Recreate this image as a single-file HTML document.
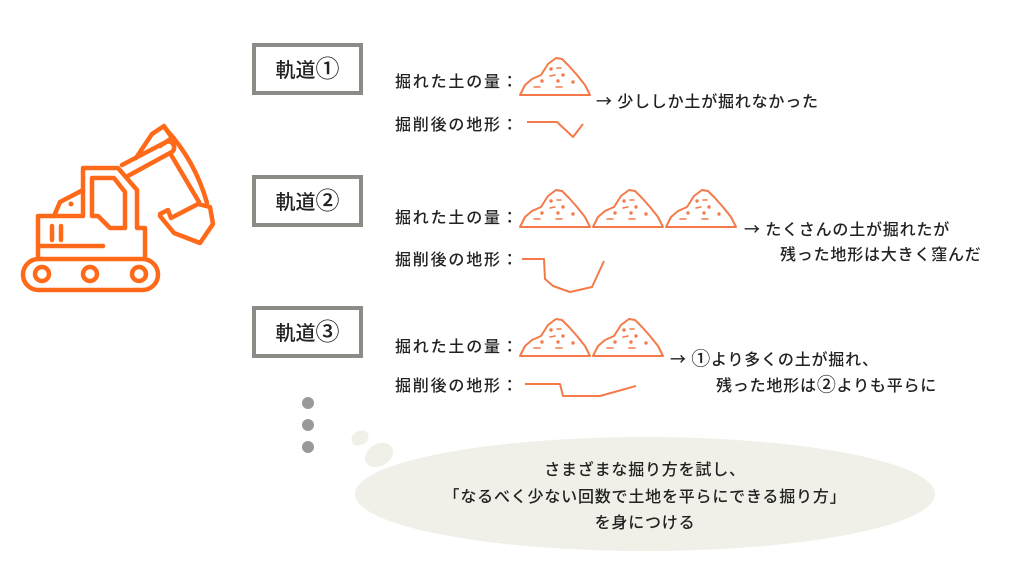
<!DOCTYPE html>
<html><head><meta charset="utf-8"><style>
body{margin:0;width:1024px;height:576px;background:#fff;overflow:hidden;position:relative;font-family:"Liberation Sans","Noto Sans CJK JP",sans-serif;color:#222}
.box{position:absolute;left:252px;width:103px;height:44px;border:4px solid #8c8c86;background:#fff;text-align:center;line-height:44px;font-size:20px;color:#222;font-family:"Noto Sans CJK JP",sans-serif;font-weight:500}
.t{position:absolute;font-size:16px;white-space:nowrap;letter-spacing:0.8px;line-height:20px;font-family:"Noto Sans CJK JP",sans-serif;font-weight:500}
.l{letter-spacing:1.8px}
.c{font-size:19px;line-height:16px}
svg{position:absolute;left:0;top:0}
</style></head><body>
<svg width="1024" height="576" viewBox="0 0 1024 576">
<defs>
<g id="m">
<path d="M0,38 L70,38 L65,28 L57,18 L49,9 L42,2 L36,1 L28,7 L21,18 L12,22 L5,28 Z" fill="none" stroke="#f47a4a" stroke-width="2" stroke-linejoin="round"/>
<g stroke="#f47a4a" stroke-width="1.6" stroke-linecap="round" fill="#f47a4a">
<path d="M37,11 l4,0 M30,19 l5,-1 M14,30 l6,0 M36,30 l6,0" fill="none"/>
<circle cx="31" cy="12" r="0.9"/><circle cx="43" cy="18" r="0.9"/><circle cx="22" cy="24" r="0.9"/><circle cx="53" cy="25" r="0.9"/><circle cx="38" cy="24" r="0.9"/>
</g>
</g>
</defs>
<g fill="none" stroke="#ff6a1a" stroke-width="4.5" stroke-linejoin="round" stroke-linecap="round">
<rect x="23" y="259" width="135" height="31" rx="15.5"/>
<circle cx="42" cy="274" r="7"/><circle cx="90" cy="274" r="7"/><circle cx="139" cy="274" r="7"/>
<path d="M38,259 L38,216 L83,216 L83,168 L118,168 L137,190 L137,228 L145,228 L145,259"/>
<path d="M40,246 L103,246"/>
<path d="M52,226 L52,240 M61,226 L61,240"/>
<path d="M92,216 L92,178 L114,178 L125,192 L125,228 L110,228 L98,216 Z"/>
<path d="M54,216 L60,202 L83,190"/>
<circle cx="71" cy="204" r="2.5" fill="#ff6a1a" stroke="none"/>
<path d="M122,165 L166,142 Q172,140 174,146 Q175,151 170,153 L126,177"/>
<path d="M136,158 L152,134 L164,126 L172,138 L160,146"/>
<path d="M164,127 Q195,160 207,203 M170,153 L199,202"/>
<path d="M160,214 L168,210 L171,218 L198,204 L210,207 L213,224 L200,243 L174,233 L160,216"/>
</g>
<use href="#m" x="520" y="57"/>
<use href="#m" x="520" y="189"/><use href="#m" x="593" y="189"/><use href="#m" x="666" y="189"/>
<use href="#m" x="520" y="318"/><use href="#m" x="593" y="318"/>
<g fill="none" stroke="#f47a4a" stroke-width="2" stroke-linejoin="round">
<path d="M527,122 L557,122 L573,137 L583,124"/>
<path d="M522,259 L544,259 L545,279 L553,286 L570,292 L592,287 L604,261"/>
<path d="M525,384 L560,384 L563,396 L600,396 L636,386"/>
</g>
<circle cx="308" cy="403" r="6" fill="#999"/><circle cx="308" cy="425" r="6" fill="#999"/><circle cx="308" cy="447" r="6" fill="#999"/>
<ellipse cx="360" cy="438" rx="9" ry="7" fill="#f0efe8" transform="rotate(-30 360 438)"/>
<ellipse cx="379" cy="455" rx="15" ry="11" fill="#f0efe8" transform="rotate(-30 379 455)"/>
<ellipse cx="645" cy="494" rx="290" ry="57" fill="#f0efe8"/>
</svg>
<div class="box" style="top:43px">軌道<span class="c" style="font-size:24px">①</span></div>
<div class="box" style="top:175px">軌道<span class="c" style="font-size:24px">②</span></div>
<div class="box" style="top:306px">軌道<span class="c" style="font-size:24px">③</span></div>
<div class="t l" style="left:395px;top:70px">掘れた土の量：</div>
<div class="t l" style="left:395px;top:113px">掘削後の地形：</div>
<div class="t" style="left:596px;top:90px">→ 少ししか土が掘れなかった</div>
<div class="t l" style="left:395px;top:206px">掘れた土の量：</div>
<div class="t l" style="left:395px;top:248px">掘削後の地形：</div>
<div class="t" style="left:744px;top:218px">→ たくさんの土が掘れたが</div>
<div class="t" style="left:780px;top:243px">残った地形は大きく窪んだ</div>
<div class="t l" style="left:395px;top:335px">掘れた土の量：</div>
<div class="t l" style="left:395px;top:374px">掘削後の地形：</div>
<div class="t" style="left:670px;top:348px">→ <span class="c">①</span>より多くの土が掘れ、</div>
<div class="t" style="left:716px;top:374px">残った地形は<span class="c">②</span>よりも平らに</div>
<div class="t" style="left:345px;width:600px;text-align:center;top:458px;font-size:16px">さまざまな掘り方を試し、</div>
<div class="t" style="left:345px;width:600px;text-align:center;top:485px;font-size:16px">「なるべく少ない回数で土地を平らにできる掘り方」</div>
<div class="t" style="left:345px;width:600px;text-align:center;top:511px;font-size:16px">を身につける</div>
</body></html>
